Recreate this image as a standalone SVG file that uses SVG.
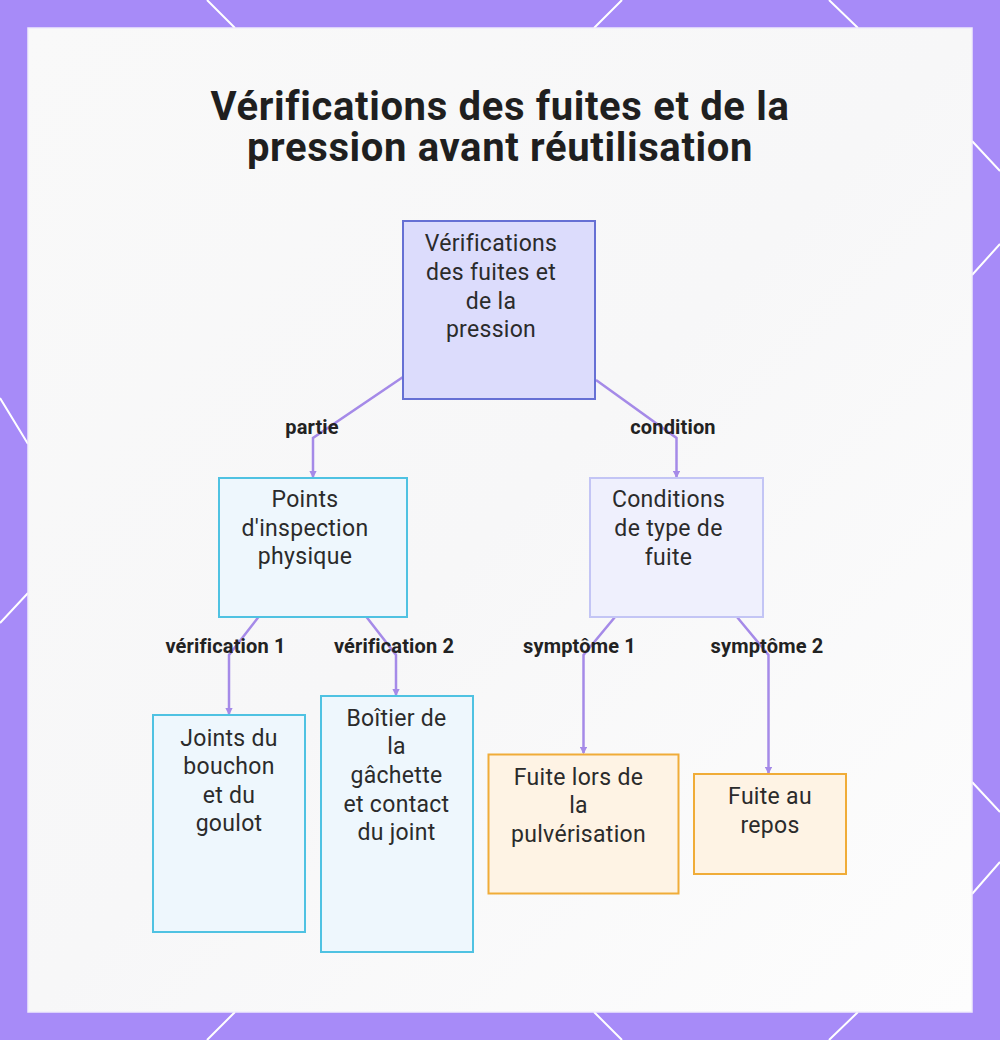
<svg xmlns="http://www.w3.org/2000/svg" width="1000" height="1040" viewBox="0 0 1000 1040">
<style>
.title{font-family:Roboto,"Liberation Sans",sans-serif;font-weight:700;font-size:40px;letter-spacing:0.65px;fill:#1f1f1f;text-anchor:middle}
.nt{font-family:Roboto,"Liberation Sans",sans-serif;font-size:23px;letter-spacing:0.3px;fill:#2b2b2b;text-anchor:middle}
.lbl{font-family:Roboto,"Liberation Sans",sans-serif;font-weight:700;font-size:20px;letter-spacing:0.15px;fill:#222;text-anchor:middle}
.edge{fill:none;stroke:#a58ae8;stroke-width:2.5;marker-end:url(#arr)}
.deco{stroke:#ffffff;stroke-width:2;fill:none}
.blue{fill:#eef7fd;stroke:#4fc2e2;stroke-width:2}
.lav{fill:#eff0fd;stroke:#c3c5f5;stroke-width:2}
.top{fill:#dcdcfc;stroke:#6670d4;stroke-width:2}
.org{fill:#fef3e4;stroke:#f0ac38;stroke-width:2}
</style>
<defs>
<marker id="arr" viewBox="0 0 6 6" refX="5" refY="3" markerWidth="3" markerHeight="3" orient="auto">
<path d="M0,0 L6,3 L0,6 z" fill="#a58ae8"/>
</marker>
<linearGradient id="bg" x1="0" y1="0" x2="1" y2="1">
<stop offset="0" stop-color="#f9f9f9"/>
<stop offset="0.5" stop-color="#f7f7f8"/>
<stop offset="1" stop-color="#fdfdfd"/>
</linearGradient>
</defs>
<rect x="0" y="0" width="1000" height="1040" fill="#a78bf8"/>
<g id="decor">
<path class="deco" d="M207,0 L235,28 M622,0 L594,28 M829,0 L858,28"/>
<path class="deco" d="M235,1012 L207,1040 M594,1012 L622,1040 M858,1012 L829,1040"/>
<path class="deco" d="M0,398 L28,444 M28,593 L0,623"/>
<path class="deco" d="M972,141 L1000,171 M1000,244 L972,275 M972,782 L1000,812 M1000,862 L972,894"/>
</g>
<rect x="28" y="28" width="944" height="984" fill="url(#bg)" stroke="#f0ecfb" stroke-width="1.5"/>
<g id="title">
<text class="title"><tspan x="500" y="120">Vérifications des fuites et de la</tspan><tspan x="500" y="161">pression avant réutilisation</tspan></text>
</g>
<g id="connectors">
<polyline class="edge" points="403,377 313,438 313,477"/>
<polyline class="edge" points="596,380 676.5,438 676.5,477"/>
<polyline class="edge" points="258.5,617 229,655 229,714"/>
<polyline class="edge" points="366.5,617 396,655 396,695"/>
<polyline class="edge" points="615,617 583.5,655 583.5,753"/>
<polyline class="edge" points="737,617 768.5,655 768.5,773"/>
<text class="lbl" x="312" y="434">partie</text>
<text class="lbl" x="673" y="434">condition</text>
<text class="lbl" x="225.5" y="653">vérification 1</text>
<text class="lbl" x="394" y="653">vérification 2</text>
<text class="lbl" x="579.5" y="653">symptôme 1</text>
<text class="lbl" x="767" y="653">symptôme 2</text>
</g>
<g id="n-root">
<rect class="top" x="403" y="221" width="192" height="178"/>
<text class="nt" x="491" y="251">Vérifications</text>
<text class="nt" x="491" y="280">des fuites et</text>
<text class="nt" x="491" y="309">de la</text>
<text class="nt" x="491" y="337">pression</text>
</g>
<g id="n-points">
<rect class="blue" x="219" y="478" width="188" height="139"/>
<text class="nt" x="305" y="507">Points</text>
<text class="nt" x="305" y="536">d'inspection</text>
<text class="nt" x="305" y="564">physique</text>
</g>
<g id="n-conditions">
<rect class="lav" x="590" y="478" width="173" height="139"/>
<text class="nt" x="668.5" y="507">Conditions</text>
<text class="nt" x="668.5" y="536">de type de</text>
<text class="nt" x="668.5" y="565">fuite</text>
</g>
<g id="n-joints">
<rect class="blue" x="153" y="715" width="152" height="217"/>
<text class="nt" x="229" y="746">Joints du</text>
<text class="nt" x="229" y="774">bouchon</text>
<text class="nt" x="229" y="803">et du</text>
<text class="nt" x="229" y="831">goulot</text>
</g>
<g id="n-boitier">
<rect class="blue" x="321" y="696" width="152" height="256"/>
<text class="nt" x="396.5" y="726">Boîtier de</text>
<text class="nt" x="396.5" y="754">la</text>
<text class="nt" x="396.5" y="783">gâchette</text>
<text class="nt" x="396.5" y="812">et contact</text>
<text class="nt" x="396.5" y="840">du joint</text>
</g>
<g id="n-pulverisation">
<rect class="org" x="488.5" y="754.5" width="190" height="139"/>
<text class="nt" x="578.5" y="785">Fuite lors de</text>
<text class="nt" x="578.5" y="813">la</text>
<text class="nt" x="578.5" y="842">pulvérisation</text>
</g>
<g id="n-repos">
<rect class="org" x="694" y="774" width="152" height="100"/>
<text class="nt" x="770" y="804">Fuite au</text>
<text class="nt" x="770" y="833">repos</text>
</g>
</svg>
